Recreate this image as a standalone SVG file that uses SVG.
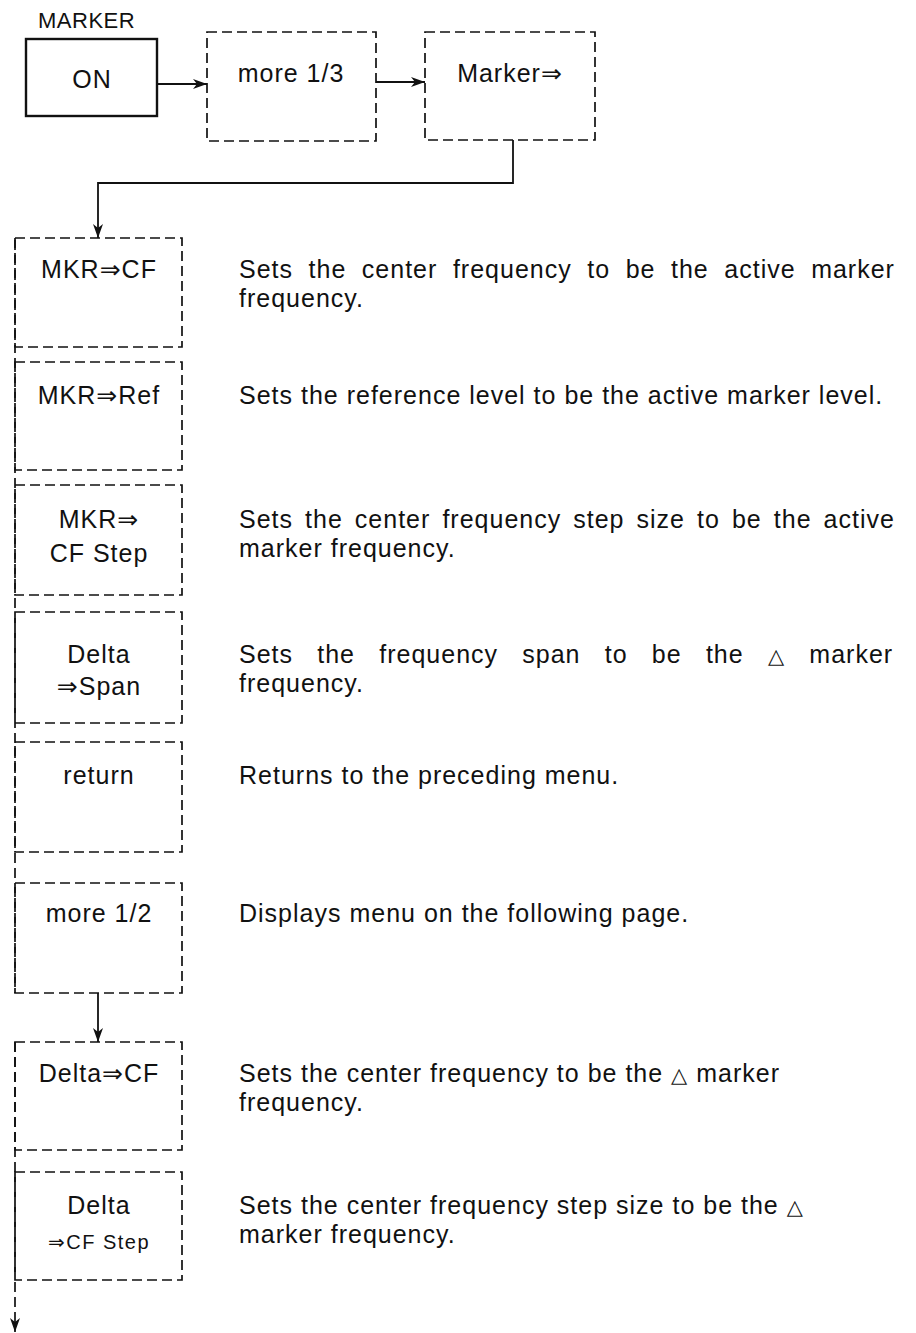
<svg xmlns="http://www.w3.org/2000/svg" width="916" height="1333" viewBox="0 0 916 1333">
<style>
  .t{font-family:"Liberation Sans","DejaVu Sans",Arial,sans-serif;font-size:25px;letter-spacing:1px;fill:#111}
  .c{text-anchor:middle}
  .tri{font-family:"DejaVu Sans",sans-serif;font-size:21px;letter-spacing:1px}
  .box{fill:none;stroke:#111;stroke-width:1.7;stroke-dasharray:10 5}
  .solid{fill:none;stroke:#111;stroke-width:2.4}
  .ln{fill:none;stroke:#111;stroke-width:1.8}
  .dl{fill:none;stroke:#111;stroke-width:1.7;stroke-dasharray:10 5}
</style>
<defs>
  <marker id="ah" viewBox="0 0 14 10" refX="14" refY="5" markerWidth="14" markerHeight="10" markerUnits="userSpaceOnUse" orient="auto">
    <path d="M0,0 L14,5 L0,10 L4,5 Z" fill="#111"/>
  </marker>
</defs>
<rect width="916" height="1333" fill="#fff"/>

<g id="connectors">
  <line class="ln" x1="157" y1="84" x2="207" y2="84" marker-end="url(#ah)"/>
  <line class="ln" x1="376" y1="82" x2="425" y2="82" marker-end="url(#ah)"/>
  <polyline class="ln" points="513,140 513,183 98,183 98,238" marker-end="url(#ah)"/>
  <line class="dl" x1="15" y1="238" x2="15" y2="993"/>
  <line class="ln" x1="98" y1="993" x2="98" y2="1042" marker-end="url(#ah)"/>
  <line class="dl" x1="15" y1="1042" x2="15" y2="1332" marker-end="url(#ah)"/>
</g>

<g id="marker-on">
  <text class="t" x="38" y="28" style="font-size:22px;letter-spacing:0.5px">MARKER</text>
  <rect class="solid" x="26" y="39" width="131" height="77"/>
  <text class="t c" x="92" y="88">ON</text>
</g>
<g id="more13">
  <rect class="box" x="207" y="32" width="169" height="109"/>
  <text class="t c" x="291" y="82">more 1/3</text>
</g>
<g id="marker-arrow">
  <rect class="box" x="425" y="32" width="170" height="108"/>
  <text class="t c" x="510" y="82">Marker⇒</text>
</g>

<g id="mkr-cf">
  <rect class="box" x="15" y="238" width="167" height="109"/>
  <text class="t c" x="99" y="278">MKR⇒CF</text>
  <text class="t" x="239" y="278" style="word-spacing:7.6px">Sets the center frequency to be the active marker</text>
  <text class="t" x="239" y="307">frequency.</text>
</g>
<g id="mkr-ref">
  <rect class="box" x="15" y="362" width="167" height="108"/>
  <text class="t c" x="99" y="404">MKR⇒Ref</text>
  <text class="t" x="239" y="404">Sets the reference level to be the active marker level.</text>
</g>
<g id="mkr-cfstep">
  <rect class="box" x="15" y="485" width="167" height="110"/>
  <text class="t c" x="99" y="528">MKR⇒</text>
  <text class="t c" x="99" y="562">CF Step</text>
  <text class="t" x="239" y="528" style="word-spacing:4.1px">Sets the center frequency step size to be the active</text>
  <text class="t" x="239" y="557">marker frequency.</text>
</g>
<g id="delta-span">
  <rect class="box" x="15" y="612" width="167" height="111"/>
  <text class="t c" x="99" y="663">Delta</text>
  <text class="t c" x="99" y="695">⇒Span</text>
  <text class="t" x="239" y="663" style="word-spacing:16.3px">Sets the frequency span to be the <tspan class="tri">△</tspan> marker</text>
  <text class="t" x="239" y="692">frequency.</text>
</g>
<g id="return">
  <rect class="box" x="15" y="742" width="167" height="110"/>
  <text class="t c" x="99" y="784">return</text>
  <text class="t" x="239" y="784">Returns to the preceding menu.</text>
</g>
<g id="more12">
  <rect class="box" x="15" y="883" width="167" height="110"/>
  <text class="t c" x="99" y="922">more 1/2</text>
  <text class="t" x="239" y="922">Displays menu on the following page.</text>
</g>
<g id="delta-cf">
  <rect class="box" x="15" y="1042" width="167" height="108"/>
  <text class="t c" x="99" y="1082">Delta⇒CF</text>
  <text class="t" x="239" y="1082">Sets the center frequency to be the <tspan class="tri">△</tspan> marker</text>
  <text class="t" x="239" y="1111">frequency.</text>
</g>
<g id="delta-cfstep">
  <rect class="box" x="15" y="1172" width="167" height="108"/>
  <text class="t c" x="99" y="1214">Delta</text>
  <text class="t c" x="99" y="1249" style="font-size:20px;letter-spacing:1.5px">⇒CF Step</text>
  <text class="t" x="239" y="1214">Sets the center frequency step size to be the <tspan class="tri">△</tspan></text>
  <text class="t" x="239" y="1243">marker frequency.</text>
</g>
</svg>
